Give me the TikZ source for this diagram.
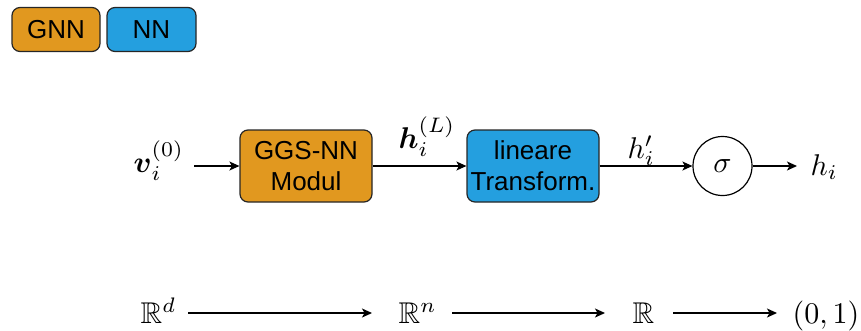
\documentclass[tikz,border=0pt]{standalone}
\usepackage{amsmath,amssymb}
\usepackage{fontspec}
\setsansfont{Liberation Sans}
\usetikzlibrary{arrows.meta}
\definecolor{gnnorange}{RGB}{225,152,31}
\definecolor{nnblue}{RGB}{36,159,223}
\tikzset{
  box/.style={draw=black!85, line width=1.2pt, rounded corners=8pt, align=center,
    font=\sffamily\fontsize{26}{31}\selectfont, inner sep=0pt},
  gnnbox/.style={box, fill=gnnorange},
  nnbox/.style={box, fill=nnblue},
  mlabel/.style={inner sep=0pt, font=\normalsize, scale=3, transform shape, anchor=base west},
  arr/.style={line width=1.3pt, -{Stealth[length=10pt,width=9pt,inset=2.5pt]}},
}
\begin{document}
\begin{tikzpicture}[x=1pt,y=-1pt]
\useasboundingbox (0,0) rectangle (861,330);
% legend
\node[gnnbox, minimum width=88pt, minimum height=44pt] (lg) at (56,29.5) {GNN};
\node[nnbox, minimum width=89pt, minimum height=44pt] (ln) at (151.5,29.5) {NN};
% main row
\node[gnnbox, minimum width=132pt, minimum height=72pt] (ggs) at (306,166) {GGS-NN\\Modul};
\node[nnbox, minimum width=132pt, minimum height=72pt] (lin) at (533,166) {lineare\\Transform.};
\node[draw, circle, line width=1.2pt, minimum size=59pt, inner sep=0pt] (sig) at (722.5,166) {};
\node[mlabel, anchor=center] (sg) at (sig.center) {$\sigma$};
\node[mlabel] (v) at (133,172) {$\boldsymbol{v}_i^{(0)}$};
\node[mlabel] (hL) at (398,148) {$\boldsymbol{h}_i^{(L)}$};
\node[mlabel] (hp) at (627,158) {$h_i'$};
\node[mlabel] (h) at (810,175) {$h_i$};
\coordinate (vs) at (194,166);
\coordinate (he) at (797,166);
\draw[arr] (vs) -- (ggs.west);
\draw[arr] (ggs.east) -- (lin.west);
\draw[arr] (lin.east) -- (sig.west);
\draw[arr] (sig.east) -- (he);
% bottom row
\node[mlabel] (rd) at (140,323) {$\mathbb{R}^d$};
\node[mlabel] (rn) at (398,323) {$\mathbb{R}^n$};
\node[mlabel] (r) at (632,323) {$\mathbb{R}$};
\node[mlabel] (o1) at (792,323) {$(0,1)$};
\coordinate (a1s) at (188,313); \coordinate (a1e) at (372,313);
\coordinate (a2s) at (452,313); \coordinate (a2e) at (605,313);
\coordinate (a3s) at (673,313); \coordinate (a3e) at (777,313);
\draw[arr] (a1s) -- (a1e);
\draw[arr] (a2s) -- (a2e);
\draw[arr] (a3s) -- (a3e);
\end{tikzpicture}
\end{document}
